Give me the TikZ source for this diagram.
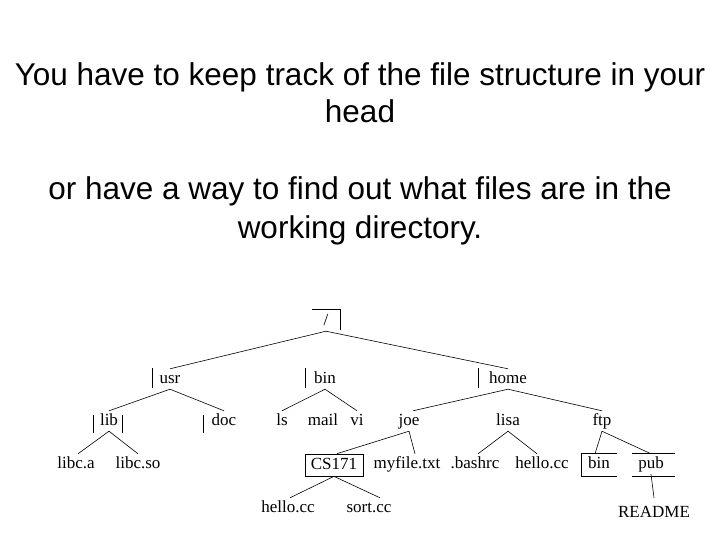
\documentclass[tikz,border=0pt]{standalone}
\usepackage{fontspec}
\setmainfont{Liberation Serif}
\newfontfamily\titlefont{Liberation Sans}
\begin{document}
\begin{tikzpicture}[x=1pt,y=-1pt,
  title/.style={font=\titlefont\fontsize{31.5}{37}\selectfont, anchor=base, inner sep=0pt},
  fnode/.style={font=\fontsize{17}{20}\selectfont, anchor=base, inner xsep=0pt, inner ysep=2pt, text height=12pt, text depth=4pt},
  boxnode/.style={fnode, draw, line width=0.7pt, anchor=center, minimum width=58pt, minimum height=22pt},
  edge/.style={line width=0.6pt},
  bar/.style={line width=0.7pt}]
\useasboundingbox (0,0) rectangle (720,540);
\fill[white] (0,0) rectangle (720,540);

% title text
\node[title] (t1) at (360,86) {You have to keep track of the file structure in your};
\node[title] (t2) at (360,123) {head};
\node[title] (t3) at (360,200) {or have a way to find out what files are in the};
\node[title] (t4) at (360,238) {working directory.};

% tree nodes
\node[fnode] (root) at (326,325) {/};
\node[fnode] (usr) at (170,383) {usr};
\node[fnode] (bin) at (325,383) {bin};
\node[fnode] (home) at (508,383) {home};
\node[fnode] (lib) at (109,425) {lib};
\node[fnode] (doc) at (224,425) {doc};
\node[fnode] (ls) at (282,425) {ls};
\node[fnode] (mail) at (323,425) {mail};
\node[fnode] (vi) at (357,425) {vi};
\node[fnode] (joe) at (409,425) {joe};
\node[fnode] (lisa) at (508,425) {lisa};
\node[fnode] (ftp) at (602,425) {ftp};
\node[fnode] (libca) at (76,468) {libc.a};
\node[fnode] (libcso) at (138,468) {libc.so};
\node[boxnode] (cs) at (334,465) {CS171};
\node[fnode] (myfile) at (407,468) {myfile.txt};
\node[fnode] (bashrc) at (475,468) {.bashrc};
\node[fnode] (hello2) at (542,468) {hello.cc};
\node[fnode] (bin2) at (599,468) {bin};
\node[fnode] (pub) at (651,468) {pub};
\node[fnode] (hello1) at (288,512) {hello.cc};
\node[fnode] (sort) at (369,512) {sort.cc};
\node[fnode] (readme) at (654,517) {README};

% connectors
\draw[edge] (root.south) -- (usr.north);
\draw[edge] (root.south) -- (home.north);
\draw[edge] (usr.south) -- (lib.north);
\draw[edge] (usr.south) -- (doc.north);
\draw[edge] (bin.south) -- (ls.north);
\draw[edge] (bin.south) -- (vi.north);
\draw[edge] (home.south) -- ([xshift=4pt]joe.north);
\draw[edge] (home.south) -- (ftp.north);
\draw[edge] (lib.south) -- ([xshift=2pt]libca.north);
\draw[edge] (lib.south) -- (libcso.north);
\draw[edge] (joe.south) -- ([xshift=3pt]cs.north);
\draw[edge] (joe.south) -- ([xshift=8pt]myfile.north);
\draw[edge] (lisa.south) -- ([xshift=3pt]bashrc.north);
\draw[edge] (lisa.south) -- ([xshift=-5pt]hello2.north);
\draw[edge] (ftp.south) -- ([xshift=-4pt]bin2.north);
\draw[edge] (ftp.south) -- (pub.north);
\draw[edge] (cs.south) -- ([xshift=2pt]hello1.north);
\draw[edge] (cs.south) -- ([xshift=11pt]sort.north);
\draw[edge] (pub.south) -- ([yshift=5pt]readme.north);

% partial frame marks
\draw[bar] (312,309) -- (340,309) -- (340,330);
\draw[bar] (152,368) -- (152,388);
\draw[bar] (305,368) -- (305,388);
\draw[bar] (478,368) -- (478,388);
\draw[bar] (93,415) -- (93,433);
\draw[bar] (122,415) -- (122,433);
\draw[bar] (203,415) -- (203,433);
\draw[bar] (617,453) -- (581,453) -- (581,476) -- (617,476);
\draw[bar] (632,453) -- (675,453);
\draw[bar] (632,476) -- (675,476);
\end{tikzpicture}
\end{document}
